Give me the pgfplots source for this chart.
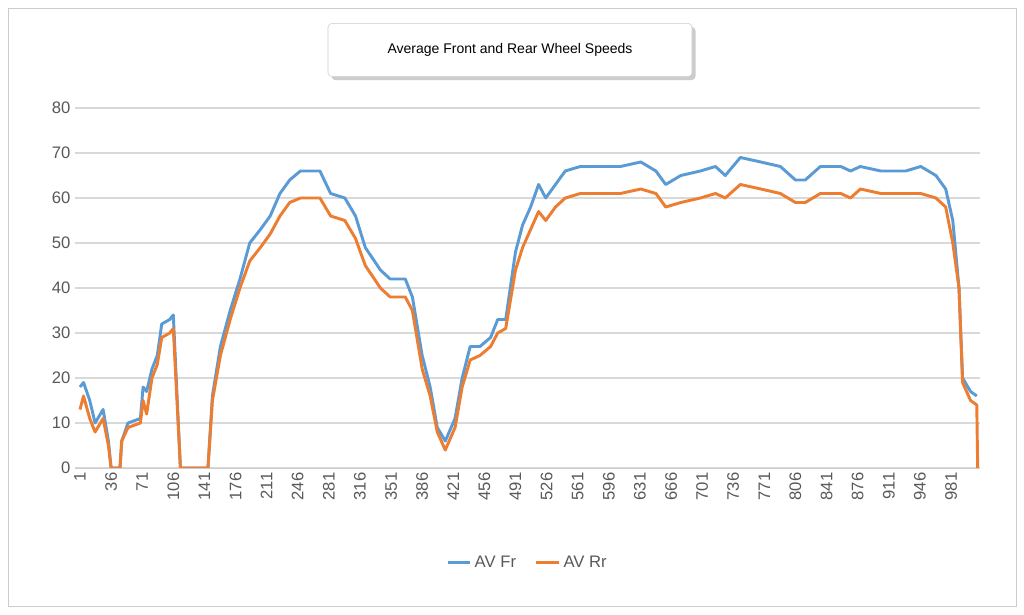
\documentclass[border=0pt]{standalone}
\usepackage{pgfplots}
\pgfplotsset{compat=1.18}
\usepackage{fontspec}
\setmainfont{Liberation Sans}
\usetikzlibrary{shadows}
\definecolor{cblue}{HTML}{5B9BD5}
\definecolor{corange}{HTML}{ED7D31}
\definecolor{tgray}{HTML}{595959}
\begin{document}
\begin{tikzpicture}
\fill[white] (0pt,0pt) rectangle (768pt,460.5pt);
\draw[gray!40] (6pt,6pt) rectangle (762pt,454.5pt);
\begin{axis}[at={(56.25pt,109.5pt)},anchor=south west,scale only axis,width=679pt,height=270pt,
 xmin=-4.6,xmax=1014,ymin=0,ymax=80,
 ytick={0,10,...,80},
 xtick={1,36,...,981},
 x tick label style={rotate=90,anchor=east,font=\fontsize{12.5}{14}\selectfont,text=tgray},
 y tick label style={font=\fontsize{12.5}{14}\selectfont,text=tgray},
 /pgf/number format/assume math mode=true,
 ymajorgrids,grid style={gray!30,line width=0.8pt},
 axis line style={draw=none},axis x line*=bottom,
 x axis line style={draw=gray!40},
 tick style={draw=none},
 legend style={at={(0.5,-0.263)},anchor=center,draw=none,legend columns=2,
   font=\fontsize{12.5}{14}\selectfont,text=tgray,
   /tikz/every even column/.append style={column sep=12pt}},
 legend image post style={line width=2.5pt},
 every axis plot/.append style={line width=2.2pt,line join=round,no markers}]
\addplot[cblue] coordinates {(1,18)(5,19)(12,15)(18,10)(24,12)(27,13)(33,6)(36,0)(46,0)(48,6)(55,10)(69,11)(72,18)(76,17)(82,22)(88,25)(93,32)(102,33)(106,34)(114,0)(145,0)(150,16)(159,27)(170,35)(181,42)(192,50)(204,53)(215,56)(226,61)(237,64)(249,66)(271,66)(283,61)(299,60)(311,56)(322,49)(339,44)(350,42)(367,42)(375,38)(386,25)(395,18)(403,9)(412,6)(423,11)(431,20)(440,27)(451,27)(463,29)(471,33)(480,33)(491,48)(499,54)(508,58)(517,63)(525,60)(536,63)(547,66)(564,67)(587,67)(609,67)(632,68)(649,66)(660,63)(677,65)(699,66)(716,67)(727,65)(744,69)(767,68)(789,67)(806,64)(817,64)(834,67)(857,67)(868,66)(879,67)(902,66)(930,66)(947,67)(964,65)(975,62)(983,55)(990,40)(994,20)(1003,17)(1010,16)};
\addlegendentry{AV Fr}
\addplot[corange] coordinates {(1,13)(5,16)(12,11)(18,8)(24,10)(27,11)(33,5)(36,0)(46,0)(48,6)(55,9)(69,10)(72,15)(76,12)(82,20)(88,23)(93,29)(102,30)(106,31)(114,0)(145,0)(150,15)(159,25)(170,33)(181,40)(192,46)(204,49)(215,52)(226,56)(237,59)(249,60)(271,60)(283,56)(299,55)(311,51)(322,45)(339,40)(350,38)(367,38)(375,35)(386,22)(395,16)(403,8)(412,4)(423,9)(431,18)(440,24)(451,25)(463,27)(471,30)(480,31)(491,44)(499,49)(508,53)(517,57)(525,55)(536,58)(547,60)(564,61)(587,61)(609,61)(632,62)(649,61)(660,58)(677,59)(699,60)(716,61)(727,60)(744,63)(767,62)(789,61)(806,59)(817,59)(834,61)(857,61)(868,60)(879,62)(902,61)(930,61)(947,61)(964,60)(975,58)(983,50)(990,40)(994,19)(1003,15)(1010,14)(1011,0)};
\addlegendentry{AV Rr}
\end{axis}
\node[draw=gray!40,fill=white,rounded corners=3pt,drop shadow={opacity=0.4},minimum width=273pt,minimum height=40pt,font=\fontsize{10.5}{12}\selectfont] at (382.5pt,423pt) {Average Front and Rear Wheel Speeds};
\end{tikzpicture}
\end{document}
